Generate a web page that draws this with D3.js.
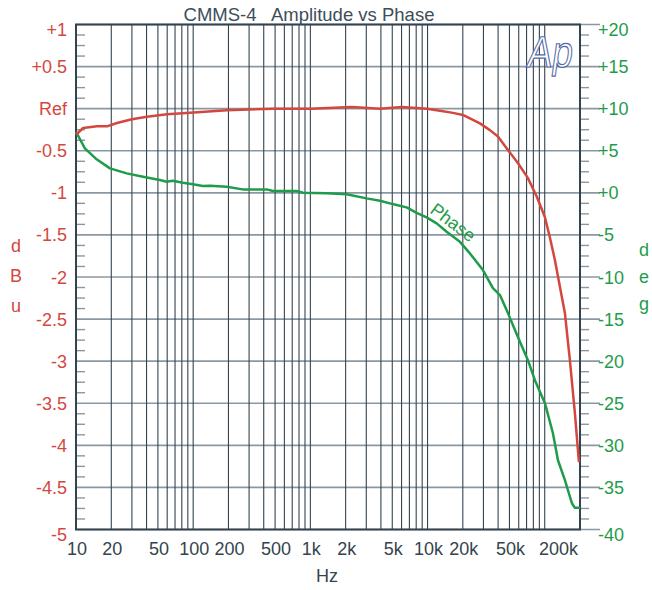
<!DOCTYPE html>
<html>
<head>
<meta charset="utf-8">
<script src="https://cdn.jsdelivr.net/npm/d3@7"></script>
<style>
  body { margin: 0; background: #fff; }
  svg { font-family: "Liberation Sans", Arial, sans-serif; }
</style>
</head>
<body>
<div id="myChart"></div>
<script>
// Amplitude curve (Hz, dBu rel. Ref)
var ampFreq = [10, 11.5, 15.1, 18.4, 22.4, 30, 40.3, 59.8, 94, 194, 480, 1000, 2265, 3926, 6000, 9886,
    12760, 16480, 20040, 28000, 34050, 39900, 48500, 59000, 71900, 85800, 100400, 110700, 122200,
    134900, 148700, 164000, 181000, 195800];
var ampDb = [-0.31, -0.23, -0.21, -0.21, -0.17, -0.125, -0.096, -0.067, -0.048, -0.02, 0.0, 0.0, 0.02, 0.0, 0.02, 0.0,
    -0.025, -0.05, -0.075, -0.175, -0.255, -0.33, -0.49, -0.646, -0.825, -1.05, -1.29, -1.53, -1.80,
    -2.12, -2.43, -2.99, -3.62, -4.2];

// Phase curve (Hz, deg)
var phaseFreq = [10, 11.9, 15.0, 19.5, 27.1, 37.3, 52, 59.4, 67, 81.7, 99.4, 121, 139, 193, 264, 424, 480, 764, 866,
    1377, 2041, 3021, 3926, 4777, 5447, 6633, 8075, 9822, 11960, 14550, 18890, 23000, 29700, 36140, 41490,
    48530, 59030, 71880, 82430, 100400, 117500, 129700, 148700, 170600, 181000, 200000];
var phaseDeg = [7.26, 5.28, 3.98, 2.91, 2.31, 1.91, 1.52, 1.31, 1.43, 1.20, 1.01, 0.80, 0.84, 0.72, 0.41, 0.41, 0.21, 0.21, 0.01,
    -0.06, -0.18, -0.66, -0.94, -1.25, -1.45, -1.73, -2.37, -2.92, -3.63, -4.63, -5.82, -7.20, -9.18, -11.32, -12.15,
    -14.29, -17.14, -19.88, -22.26, -24.99, -28.56, -31.77, -34.14, -36.88, -37.43, -37.43];

// Tick labels
var xTickValues = [10, 20, 50, 100, 200, 500, 1000, 2000, 5000, 10000, 20000, 50000, 200000];
var xTickLabels = ["10", "20", "50", "100", "200", "500", "1k", "2k", "5k", "10k", "20k", "50k", "200k"];
var leftTickValues = [1, 0.5, 0, -0.5, -1, -1.5, -2, -2.5, -3, -3.5, -4, -4.5, -5];
var leftTickLabels = ["+1", "+0.5", "Ref", "-0.5", "-1", "-1.5", "-2", "-2.5", "-3", "-3.5", "-4", "-4.5", "-5"];
var rightTickValues = [20, 15, 10, 5, 0, -5, -10, -15, -20, -25, -30, -35, -40];
var rightTickLabels = ["+20", "+15", "+10", "+5", "+0", "-5", "-10", "-15", "-20", "-25", "-30", "-35", "-40"];

var red = "#d4473f", green = "#1f9c4b", dark = "#34444f", grey = "#8a98a3";

var margin = { top: 24.5, left: 76 },
    width = 504, height = 505;

var svg = d3.select("#myChart")
    .append("svg")
    .attr("width", 652)
    .attr("height", 590);

//Scales
var x = d3.scaleLog().domain([10, 200000]).range([margin.left, margin.left + width]);
var yL = d3.scaleLinear().domain([-5, 1]).range([margin.top + height, margin.top]);
var yR = d3.scaleLinear().domain([-40, 20]).range([margin.top + height, margin.top]);

//Horizontal grid lines (extend a bit to the right as major ticks)
svg.append("g").selectAll("line")
    .data(leftTickValues)
    .enter().append("line")
    .attr("x1", margin.left).attr("x2", margin.left + width + 20)
    .attr("y1", function (d) { return yL(d); })
    .attr("y2", function (d) { return yL(d); })
    .attr("stroke", grey).attr("stroke-width", 1.6);

//Minor ticks, 4 per division
var minor = d3.range(0, 49).map(function (i) { return 1 - i * 0.125; })
    .filter(function (v, i) { return i % 4 !== 0; });
svg.append("g").selectAll("line")
    .data(minor)
    .enter().append("line")
    .attr("x1", margin.left).attr("x2", margin.left + 9)
    .attr("y1", function (d) { return yL(d); })
    .attr("y2", function (d) { return yL(d); })
    .attr("stroke", grey).attr("stroke-width", 1.4);
svg.append("g").selectAll("line")
    .data(minor)
    .enter().append("line")
    .attr("x1", margin.left + width).attr("x2", margin.left + width + 9)
    .attr("y1", function (d) { return yL(d); })
    .attr("y2", function (d) { return yL(d); })
    .attr("stroke", grey).attr("stroke-width", 1.4);

//Vertical grid lines at 1..9 per decade
var vGrid = [];
[10, 100, 1000, 10000, 100000].forEach(function (dec) {
    for (var k = 1; k <= 9; k++) {
        if (dec * k <= 200000) vGrid.push(dec * k);
    }
});
svg.append("g").selectAll("line")
    .data(vGrid)
    .enter().append("line")
    .attr("x1", function (d) { return x(d); })
    .attr("x2", function (d) { return x(d); })
    .attr("y1", margin.top).attr("y2", margin.top + height)
    .attr("stroke", dark).attr("stroke-width", 1.1);

//Plot frame
svg.append("rect")
    .attr("x", margin.left).attr("y", margin.top)
    .attr("width", width).attr("height", height)
    .attr("fill", "none").attr("stroke", dark).attr("stroke-width", 2);

//Ap logo
svg.append("text")
    .attr("transform", "translate(526,67) skewX(-8) scale(0.84,1)")
    .attr("font-size", "44px")
    .attr("fill", "#fff")
    .attr("stroke", "#5469a6")
    .attr("stroke-width", 1.2)
    .text("Ap");

//Curves
var ampLine = d3.line()
    .x(function (d) { return x(d[0]); })
    .y(function (d) { return yL(d[1]); });
var phaseLine = d3.line()
    .x(function (d) { return x(d[0]); })
    .y(function (d) { return yR(d[1]); });

svg.append("path")
    .datum(d3.zip(phaseFreq, phaseDeg))
    .attr("d", phaseLine)
    .attr("fill", "none").attr("stroke", green).attr("stroke-width", 2.5)
    .attr("stroke-linejoin", "round");

svg.append("path")
    .datum(d3.zip(ampFreq, ampDb))
    .attr("d", ampLine)
    .attr("fill", "none").attr("stroke", red).attr("stroke-width", 2.5)
    .attr("stroke-linejoin", "round");

//"Phase" label on curve
svg.append("text")
    .attr("transform", "translate(429,212) rotate(37)")
    .attr("font-size", "18px")
    .attr("fill", green)
    .text("Phase");

//Left axis labels
svg.append("g").selectAll("text")
    .data(leftTickValues)
    .enter().append("text")
    .attr("x", 67)
    .attr("y", function (d, i) { return yL(d) + (i === 0 || i === 12 ? 11 : 6.5); })
    .attr("text-anchor", "end")
    .attr("font-size", "18px")
    .attr("fill", red)
    .text(function (d, i) { return leftTickLabels[i]; });

//Right axis labels
svg.append("g").selectAll("text")
    .data(rightTickValues)
    .enter().append("text")
    .attr("x", 598)
    .attr("y", function (d, i) { return yR(d) + (i === 0 || i === 12 ? 11 : 6.5); })
    .attr("font-size", "18px")
    .attr("fill", green)
    .text(function (d, i) { return rightTickLabels[i]; });

//X axis labels
svg.append("g").selectAll("text")
    .data(xTickValues)
    .enter().append("text")
    .attr("x", function (d, i) { return i === xTickValues.length - 1 ? x(d) - 2 : x(d) + 1; })
    .attr("y", 555)
    .attr("text-anchor", function (d, i) { return i === xTickValues.length - 1 ? "end" : "middle"; })
    .attr("font-size", "18px")
    .attr("fill", dark)
    .text(function (d, i) { return xTickLabels[i]; });

//Axis titles
svg.append("text")
    .attr("x", 327).attr("y", 582)
    .attr("text-anchor", "middle")
    .attr("font-size", "18px")
    .attr("fill", dark)
    .text("Hz");

svg.append("g").selectAll("text")
    .data(["d", "B", "u"])
    .enter().append("text")
    .attr("x", 16)
    .attr("y", function (d, i) { return 252 + i * 30; })
    .attr("text-anchor", "middle")
    .attr("font-size", "18px")
    .attr("fill", red)
    .text(function (d) { return d; });

svg.append("g").selectAll("text")
    .data(["d", "e", "g"])
    .enter().append("text")
    .attr("x", 644)
    .attr("y", function (d, i) { return 256 + i * 27; })
    .attr("text-anchor", "middle")
    .attr("font-size", "18px")
    .attr("fill", green)
    .text(function (d) { return d; });

//Title
svg.append("text")
    .attr("x", 309).attr("y", 21)
    .attr("text-anchor", "middle")
    .attr("font-size", "18.5px")
    .attr("fill", "#3d4e5a")
    .attr("xml:space", "preserve")
    .style("white-space", "pre")
    .text("CMMS-4   Amplitude vs Phase");
</script>
</body>
</html>
